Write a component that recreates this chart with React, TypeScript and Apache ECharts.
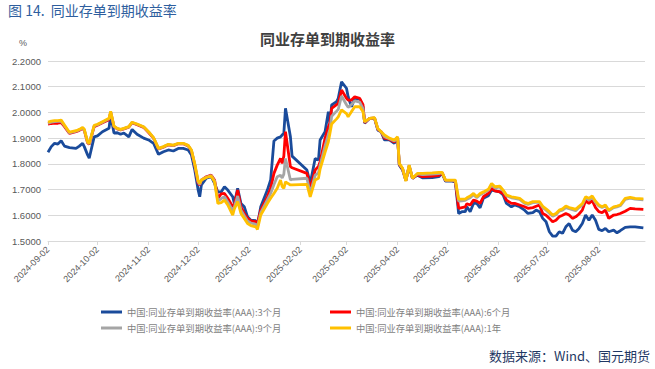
import React, { useEffect, useRef } from "react";
import * as echarts from "echarts";

const dates: string[] = [
  // Sep 2024
  "2024-09-02", "2024-09-04", "2024-09-06", "2024-09-08", "2024-09-10", "2024-09-12", "2024-09-15", "2024-09-19", "2024-09-21", "2024-09-23", "2024-09-24", "2024-09-26", "2024-09-27", "2024-09-30",
  // Oct
  "2024-10-02", "2024-10-05", "2024-10-09", "2024-10-10", "2024-10-12", "2024-10-14", "2024-10-16", "2024-10-18", "2024-10-21", "2024-10-23", "2024-10-26", "2024-10-30",
  // Nov
  "2024-11-02", "2024-11-05", "2024-11-08", "2024-11-11", "2024-11-14", "2024-11-17", "2024-11-20", "2024-11-23", "2024-11-26", "2024-11-28", "2024-11-30",
  // Dec
  "2024-12-02", "2024-12-03", "2024-12-04", "2024-12-07", "2024-12-10", "2024-12-12", "2024-12-14", "2024-12-16", "2024-12-18", "2024-12-20", "2024-12-23", "2024-12-24", "2024-12-26", "2024-12-28", "2024-12-30",
  // Jan 2025
  "2025-01-01", "2025-01-03", "2025-01-06", "2025-01-07", "2025-01-09", "2025-01-13", "2025-01-15", "2025-01-17", "2025-01-19", "2025-01-21", "2025-01-22", "2025-01-23", "2025-01-24", "2025-01-27", "2025-01-28",
  // Feb
  "2025-02-06", "2025-02-08", "2025-02-11", "2025-02-13", "2025-02-14", "2025-02-17", "2025-02-19", "2025-02-20", "2025-02-21", "2025-02-24", "2025-02-25", "2025-02-27",
  // Mar
  "2025-03-02", "2025-03-03", "2025-03-05", "2025-03-07", "2025-03-10", "2025-03-12", "2025-03-13", "2025-03-16", "2025-03-19", "2025-03-21", "2025-03-23", "2025-03-25", "2025-03-28", "2025-03-31",
  // Apr
  "2025-04-02", "2025-04-03", "2025-04-05", "2025-04-07", "2025-04-09", "2025-04-11", "2025-04-14", "2025-04-17", "2025-04-23", "2025-04-27", "2025-04-29",
  // May
  "2025-05-01", "2025-05-05", "2025-05-07", "2025-05-09", "2025-05-11", "2025-05-13", "2025-05-14", "2025-05-16", "2025-05-18", "2025-05-20", "2025-05-22", "2025-05-24", "2025-05-27", "2025-05-29", "2025-05-31",
  // Jun
  "2025-06-03", "2025-06-05", "2025-06-07", "2025-06-10", "2025-06-12", "2025-06-15", "2025-06-18", "2025-06-20", "2025-06-23", "2025-06-25", "2025-06-27", "2025-06-29",
  // Jul
  "2025-07-01", "2025-07-03", "2025-07-05", "2025-07-07", "2025-07-09", "2025-07-11", "2025-07-13", "2025-07-15", "2025-07-17", "2025-07-19", "2025-07-21", "2025-07-23", "2025-07-25", "2025-07-27", "2025-07-29", "2025-07-31",
  // Aug
  "2025-08-02", "2025-08-04", "2025-08-06", "2025-08-08", "2025-08-11", "2025-08-13", "2025-08-15", "2025-08-18", "2025-08-21", "2025-08-24", "2025-08-29",
];

// 3个月
const y3m: number[] = [
  1.845, 1.867, 1.880, 1.877, 1.890, 1.869, 1.863, 1.860, 1.869, 1.880, 1.867, 1.835, 1.822, 1.905,
  1.909, 1.925, 1.938, 1.990, 1.920, 1.921, 1.915, 1.920, 1.905, 1.934, 1.915, 1.900,
  1.893, 1.880, 1.837, 1.847, 1.854, 1.850, 1.860, 1.860, 1.854, 1.834, 1.776,
  1.700, 1.672, 1.718, 1.744, 1.750, 1.724, 1.691, 1.691, 1.711, 1.698, 1.672, 1.646, 1.705, 1.646, 1.633,
  1.594, 1.581, 1.579, 1.562, 1.633, 1.698, 1.737, 1.889, 1.900, 1.905, 1.912, 1.919, 2.016, 1.905, 1.830,
  1.776, 1.724, 1.821, 1.815, 1.893, 1.925, 2.003, 1.958, 2.029, 2.042, 2.055, 2.119,
  2.094, 2.061, 2.022, 2.055, 2.052, 2.022, 1.958, 1.977, 1.977, 1.931, 1.925, 1.893, 1.893, 1.880,
  1.900, 1.795, 1.776, 1.737, 1.789, 1.744, 1.756, 1.746, 1.747, 1.750, 1.763,
  1.733, 1.733, 1.730, 1.607, 1.614, 1.614, 1.633, 1.614, 1.646, 1.646, 1.629, 1.666, 1.676, 1.698, 1.695,
  1.691, 1.679, 1.646, 1.633, 1.640, 1.633, 1.620, 1.607, 1.610, 1.620, 1.614, 1.588,
  1.575, 1.536, 1.519, 1.519, 1.536, 1.530, 1.555, 1.568, 1.542, 1.536, 1.549, 1.568, 1.601, 1.581, 1.601, 1.581,
  1.545, 1.540, 1.549, 1.536, 1.542, 1.532, 1.540, 1.553, 1.555, 1.555, 1.551,
];

// 6个月
const y6m: number[] = [
  1.955, 1.957, 1.958, 1.958, 1.960, 1.945, 1.918, 1.925, 1.930, 1.938, 1.930, 1.882, 1.876, 1.945,
  1.950, 1.960, 1.972, 2.000, 1.945, 1.936, 1.932, 1.936, 1.943, 1.960, 1.952, 1.942,
  1.922, 1.900, 1.858, 1.865, 1.874, 1.871, 1.878, 1.878, 1.870, 1.850, 1.795,
  1.725, 1.718, 1.737, 1.750, 1.756, 1.737, 1.666, 1.683, 1.685, 1.666, 1.633, 1.640, 1.698, 1.633, 1.607,
  1.588, 1.578, 1.575, 1.568, 1.620, 1.672, 1.705, 1.763, 1.795, 1.821, 1.802, 1.830, 1.925, 1.789, 1.785,
  1.763, 1.705, 1.776, 1.790, 1.808, 1.900, 1.944, 1.960, 2.016, 2.030, 2.035, 2.087,
  2.055, 2.048, 2.048, 2.061, 2.055, 2.030, 1.960, 1.977, 1.978, 1.934, 1.925, 1.900, 1.896, 1.885,
  1.902, 1.798, 1.780, 1.735, 1.792, 1.744, 1.758, 1.750, 1.752, 1.755, 1.765,
  1.735, 1.735, 1.733, 1.627, 1.630, 1.633, 1.645, 1.640, 1.659, 1.655, 1.646, 1.672, 1.685, 1.705, 1.695,
  1.691, 1.685, 1.659, 1.646, 1.646, 1.640, 1.633, 1.627, 1.630, 1.635, 1.640, 1.607,
  1.600, 1.588, 1.575, 1.581, 1.594, 1.600, 1.607, 1.601, 1.588, 1.594, 1.605, 1.620, 1.657, 1.646, 1.657, 1.630,
  1.614, 1.610, 1.620, 1.588, 1.601, 1.603, 1.607, 1.616, 1.627, 1.625, 1.623,
];

// 9个月
const y9m: number[] = [
  1.958, 1.962, 1.964, 1.965, 1.966, 1.948, 1.920, 1.927, 1.932, 1.940, 1.932, 1.884, 1.878, 1.948,
  1.952, 1.962, 1.975, 2.002, 1.946, 1.937, 1.933, 1.937, 1.944, 1.961, 1.954, 1.943,
  1.924, 1.901, 1.859, 1.866, 1.875, 1.872, 1.879, 1.879, 1.871, 1.852, 1.797,
  1.730, 1.720, 1.737, 1.748, 1.754, 1.733, 1.655, 1.665, 1.672, 1.652, 1.618, 1.632, 1.675, 1.620, 1.598,
  1.578, 1.570, 1.565, 1.556, 1.610, 1.660, 1.685, 1.720, 1.750, 1.756, 1.745, 1.760, 1.821, 1.737, 1.740,
  1.744, 1.685, 1.756, 1.765, 1.795, 1.870, 1.915, 1.935, 1.985, 2.005, 2.012, 2.064,
  2.030, 2.020, 2.030, 2.045, 2.040, 2.015, 1.962, 1.977, 1.979, 1.936, 1.925, 1.906, 1.898, 1.889,
  1.904, 1.800, 1.782, 1.734, 1.794, 1.744, 1.761, 1.758, 1.760, 1.762, 1.766,
  1.736, 1.736, 1.735, 1.655, 1.656, 1.658, 1.662, 1.668, 1.680, 1.668, 1.680, 1.687, 1.697, 1.720, 1.706,
  1.710, 1.695, 1.676, 1.668, 1.666, 1.662, 1.646, 1.642, 1.649, 1.650, 1.650, 1.630,
  1.620, 1.608, 1.596, 1.602, 1.616, 1.620, 1.630, 1.626, 1.622, 1.618, 1.630, 1.640, 1.668, 1.660, 1.670, 1.650,
  1.636, 1.630, 1.636, 1.617, 1.630, 1.633, 1.637, 1.662, 1.667, 1.663, 1.660,
];

// 1年
const y1y: number[] = [
  1.962, 1.966, 1.968, 1.968, 1.970, 1.951, 1.923, 1.929, 1.934, 1.942, 1.935, 1.885, 1.880, 1.950,
  1.954, 1.964, 1.977, 2.004, 1.947, 1.938, 1.934, 1.938, 1.945, 1.962, 1.955, 1.944,
  1.925, 1.902, 1.860, 1.867, 1.876, 1.873, 1.880, 1.880, 1.872, 1.854, 1.800,
  1.735, 1.724, 1.737, 1.747, 1.752, 1.730, 1.646, 1.649, 1.659, 1.640, 1.601, 1.625, 1.653, 1.607, 1.588,
  1.568, 1.560, 1.555, 1.545, 1.601, 1.646, 1.666, 1.685, 1.705, 1.737, 1.712, 1.705, 1.730, 1.718, 1.718,
  1.720, 1.672, 1.737, 1.744, 1.780, 1.845, 1.886, 1.920, 1.955, 1.975, 1.983, 2.010,
  1.995, 1.983, 2.003, 2.022, 2.022, 2.003, 1.964, 1.977, 1.980, 1.938, 1.925, 1.912, 1.900, 1.893,
  1.905, 1.802, 1.783, 1.733, 1.795, 1.744, 1.763, 1.763, 1.765, 1.767, 1.767,
  1.737, 1.737, 1.737, 1.663, 1.663, 1.663, 1.668, 1.675, 1.685, 1.672, 1.685, 1.691, 1.701, 1.724, 1.711,
  1.713, 1.698, 1.679, 1.672, 1.670, 1.666, 1.650, 1.646, 1.653, 1.653, 1.653, 1.635,
  1.625, 1.614, 1.601, 1.607, 1.620, 1.625, 1.636, 1.630, 1.627, 1.623, 1.635, 1.645, 1.672, 1.666, 1.675, 1.655,
  1.640, 1.633, 1.640, 1.620, 1.633, 1.636, 1.640, 1.666, 1.670, 1.666, 1.664,
];

const tickLabels: string[] = [
  "2024-09-02", "2024-10-02", "2024-11-02", "2024-12-02", "2025-01-02", "2025-02-02",
  "2025-03-02", "2025-04-02", "2025-05-02", "2025-06-02", "2025-07-02", "2025-08-02",
];

const seriesNames: string[] = [
  "中国:同业存单到期收益率(AAA):3个月",
  "中国:同业存单到期收益率(AAA):6个月",
  "中国:同业存单到期收益率(AAA):9个月",
  "中国:同业存单到期收益率(AAA):1年",
];
const seriesColors: string[] = ["#1A4B9B", "#FF0000", "#A5A5A5", "#FFC000"];

function toTs(s: string): number {
  const [y, m, d] = s.split("-").map(Number);
  return Date.UTC(y, m - 1, d);
}
function fmt(v: number): string {
  const d = new Date(Math.round(v));
  const mm = String(d.getUTCMonth() + 1).padStart(2, "0");
  const dd = String(d.getUTCDate()).padStart(2, "0");
  return `${d.getUTCFullYear()}-${mm}-${dd}`;
}

export default function App() {
  const ref = useRef<HTMLDivElement>(null);
  useEffect(() => {
    if (!ref.current) return;
    const chart = echarts.init(ref.current, undefined, { renderer: "svg" });
    const all = [y3m, y6m, y9m, y1y];
    const ticks = tickLabels.map(toTs);
    const font = "Liberation Sans, Arial, sans-serif";
    const cjk = "Noto Sans CJK SC, sans-serif";
    const legendText = { fontSize: 9.3, color: "#7F7F7F", lineHeight: 12, fontFamily: cjk };
    chart.setOption({
      animation: false,
      backgroundColor: "#ffffff",
      title: {
        text: "同业存单到期收益率",
        left: "center",
        top: 26,
        textStyle: { fontSize: 15, fontWeight: "bold", color: "#404040", fontFamily: cjk },
      },
      graphic: [
        {
          type: "text",
          left: 8,
          top: 3,
          style: { text: "图 14.  同业存单到期收益率", fontSize: 14, fill: "#2E5E9E", fontFamily: cjk },
        },
        {
          type: "text",
          left: 19,
          top: 38,
          style: { text: "%", fontSize: 9, fill: "#595959", fontFamily: font },
        },
        {
          type: "text",
          right: 5,
          top: 349,
          style: { text: "数据来源：Wind、国元期货", fontSize: 13, fill: "#1F3864", fontFamily: cjk },
        },
      ],
      legend: [
        {
          data: [seriesNames[0], seriesNames[2]],
          orient: "vertical",
          left: 96,
          top: 301,
          icon: "rect",
          itemWidth: 21,
          itemHeight: 3,
          itemGap: 4,
          textStyle: legendText,
        },
        {
          data: [seriesNames[1], seriesNames[3]],
          orient: "vertical",
          left: 325,
          top: 301,
          icon: "rect",
          itemWidth: 21,
          itemHeight: 3,
          itemGap: 4,
          textStyle: legendText,
        },
      ],
      grid: { left: 48, right: 10, top: 61, bottom: 128, containLabel: false },
      xAxis: {
        type: "value",
        min: toTs("2024-09-02"),
        max: toTs("2025-08-30"),
        axisLine: { show: true, lineStyle: { color: "#D9D9D9", width: 1 } },
        axisTick: { show: true, customValues: ticks, length: 4, lineStyle: { color: "#D9D9D9" } },
        axisLabel: {
          customValues: ticks,
          formatter: (v: number) => fmt(v),
          rotate: 45,
          fontSize: 9,
          color: "#595959",
          fontFamily: font,
          margin: 7,
          hideOverlap: false,
        },
        splitLine: { show: false },
      },
      yAxis: {
        type: "value",
        min: 1.5,
        max: 2.2,
        interval: 0.1,
        axisLine: { show: false },
        axisTick: { show: false },
        axisLabel: {
          formatter: (v: number) => v.toFixed(4),
          fontSize: 9.5,
          color: "#595959",
          fontFamily: font,
          margin: 7,
        },
        splitLine: { show: true, lineStyle: { color: "#D9D9D9", width: 1 } },
      },
      series: all.map((vals, k) => ({
        name: seriesNames[k],
        type: "line",
        showSymbol: false,
        symbol: "none",
        color: seriesColors[k],
        lineStyle: { width: 2.8, color: seriesColors[k] },
        z: 2 + k,
        data: dates.map((d, i) => [toTs(d), vals[i]]),
      })),
    });
    return () => chart.dispose();
  }, []);
  return <div ref={ref} style={{ width: 655, height: 369, position: "absolute", left: 0, top: 0 }} />;
}
